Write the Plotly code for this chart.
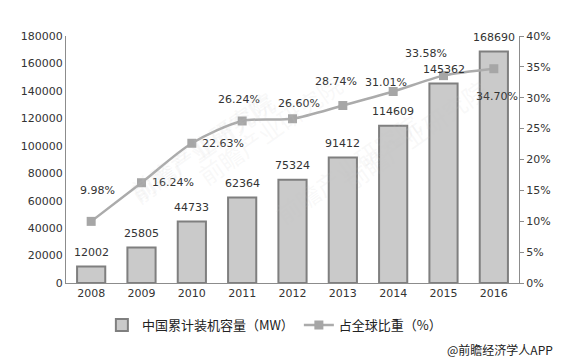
import plotly.graph_objects as go

years = ["2008", "2009", "2010", "2011", "2012", "2013", "2014", "2015", "2016"]
capacity = [12002, 25805, 44733, 62364, 75324, 91412, 114609, 145362, 168690]
share = [9.98, 16.24, 22.63, 26.24, 26.60, 28.74, 31.01, 33.58, 34.70]
share_labels = ["9.98%", "16.24%", "22.63%", "26.24%", "26.60%", "28.74%", "31.01%", "33.58%", "34.70%"]
# label offsets (px) for line labels
share_dx = [6, 31, 31, -3, 6, -7, -7, -18, 3]
share_dy = [31, 0, 0, 21, 15, 24, 9, 22, -28]

FONT = "DejaVu Sans"
fig = go.Figure()

fig.add_trace(go.Bar(
    x=years, y=capacity, name="中国累计装机容量（MW）",
    marker=dict(color="#cacaca", line=dict(color="#7f7f7f", width=2)),
    width=0.56, yaxis="y",
))
fig.add_trace(go.Scatter(
    x=years, y=share, name="占全球比重（%）", yaxis="y2",
    mode="lines+markers",
    line=dict(color="#ababab", width=2.5, shape="spline", smoothing=0.8),
    marker=dict(symbol="square", size=9, color="#a6a6a6"),
    cliponaxis=False,
))

annotations = []
# category axis: annotations take the category index
for i, v in enumerate(capacity):
    annotations.append(dict(x=i, y=v, xref="x", yref="y", text=str(v), showarrow=False,
                            yanchor="middle", yshift=14, font=dict(size=11, color="#333333", family=FONT)))
for i, (v, t, dx, dy) in enumerate(zip(share, share_labels, share_dx, share_dy)):
    annotations.append(dict(x=i, y=v, xref="x", yref="y2", text=t, showarrow=False,
                            xshift=dx, yshift=dy, font=dict(size=11, color="#333333", family=FONT)))

# faint watermarks
for (px, py) in [(0.12, 0.82), (0.45, 0.62), (0.12, 0.28), (0.62, 0.2), (0.95, 0.6)]:
    annotations.append(dict(x=px, y=py, xref="paper", yref="paper", text="前瞻产业研究院", showarrow=False,
                            textangle=-35, font=dict(size=24, color="rgba(200,200,200,0.12)", family="Noto Sans CJK SC")))

annotations.append(dict(x=1.079, y=-0.271, xref="paper", yref="paper", xanchor="right", yanchor="middle",
                        text="@前瞻经济学人APP", showarrow=False,
                        font=dict(size=12, color="#222222", family="Noto Sans CJK SC")))

# page body has an 8px margin, so the figure is sized to fit the 570x359 window
fig.update_layout(
    width=562, height=351,
    margin=dict(l=58, r=51, t=28, b=76),
    paper_bgcolor="white", plot_bgcolor="white",
    font=dict(family=FONT, size=11, color="#333333"),
    showlegend=True,
    legend=dict(orientation="h", x=0.46, xanchor="center", y=-0.11, yanchor="top",
                font=dict(size=13, family="Noto Sans CJK SC", color="#222222")),
    xaxis=dict(type="category", range=[-0.5, 8.5], autorange=False, showline=True, linecolor="#8c8c8c",
               linewidth=1, ticks="", showgrid=False,
               tickfont=dict(size=11, family=FONT, color="#333333")),
    yaxis=dict(range=[0, 180000], autorange=False, dtick=20000, showline=True, linecolor="#8c8c8c", linewidth=1,
               showgrid=False, zeroline=False, ticks="", tickformat="d",
               tickfont=dict(size=11, family=FONT, color="#333333")),
    yaxis2=dict(range=[0, 40], autorange=False, dtick=5, overlaying="y", side="right", showline=True,
                linecolor="#8c8c8c", linewidth=1, showgrid=False, zeroline=False,
                ticks="outside", ticklen=4, tickcolor="#8c8c8c", ticksuffix="%",
                tickfont=dict(size=11, family=FONT, color="#333333")),
    annotations=annotations,
)

fig.write_html("out.html")
